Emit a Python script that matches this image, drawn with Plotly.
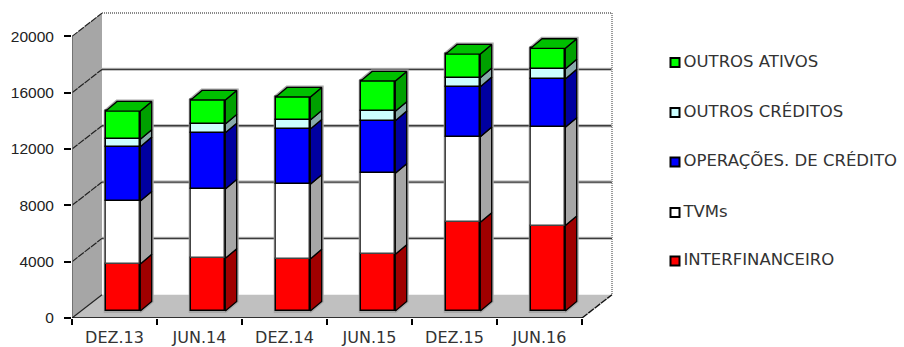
import plotly.graph_objects as go

# Semester labels and balances per asset class (stacked bottom to top)
periods = ["DEZ.13", "JUN.14", "DEZ.14", "JUN.15", "DEZ.15", "JUN.16"]
interfinanceiro = [3340, 3740, 3700, 4030, 6300, 6070]
tvms = [4470, 4925, 5300, 5750, 6080, 6975]
operacoes = [3860, 3995, 3925, 3735, 3550, 3435]
outros_creditos = [520, 620, 640, 665, 640, 710]
outros_ativos = [2010, 1705, 1635, 2155, 1680, 1465]
y_ticks = [0, 4000, 8000, 12000, 16000, 20000]

series = [
    ("INTERFINANCEIRO", interfinanceiro, "#FF0000", "#A00000", "#000000"),
    ("TVMs", tvms, "#FFFFFF", "#A6A6A6", "#444444"),
    ("OPERAÇÕES. DE CRÉDITO", operacoes, "#0000FF", "#0000A0", "#000000"),
    ("OUTROS CRÉDITOS", outros_creditos, "#CCFFFF", "#88AAAA", "#000000"),
    ("OUTROS ATIVOS", outros_ativos, "#00FF00", "#00A000", "#000000"),
]

# Canvas and axis scale, in screen pixels
WIDTH, HEIGHT = 904, 347
X0, Y0 = 72, 318          # where the value and category axes meet
PX_PER_CAT = 85.0
PX_PER_UNIT = 14.08 / 1000


def dx(px):
    return px / PX_PER_CAT


def dy(px):
    return px / PX_PER_UNIT


def at_x(px):
    return (px - X0) / PX_PER_CAT


def at_y(py):
    return (Y0 - py) / PX_PER_UNIT


# Oblique projection: depth of the chart box and of each column
WALL_DX, WALL_DY = dx(30), dy(23.3)
BAR_DX0, BAR_DY0 = dx(8.5), dy(7)
BAR_DX, BAR_DY = dx(11.4), dy(9.6)
BAR_W = 34.6 / PX_PER_CAT
N = len(periods)
TOP = max(y_ticks)

fig = go.Figure()
shapes = []


def poly(xs, ys, fill, line="rgba(0,0,0,0)", width=0):
    path = "M" + " L".join(f"{x},{y}" for x, y in zip(xs, ys)) + " Z"
    shapes.append(dict(type="path", path=path, fillcolor=fill, layer="below",
                       line=dict(color=line, width=width), xref="x", yref="y"))


def seg(x0, y0, x1, y1, color, width, dash="solid"):
    shapes.append(dict(type="line", x0=x0, y0=y0, x1=x1, y1=y1, layer="below",
                       line=dict(color=color, width=width, dash=dash), xref="x", yref="y"))


# Side wall and floor of the chart box
poly([0, 0, WALL_DX, WALL_DX], [0, TOP, TOP + WALL_DY, WALL_DY], "#A6A6A6")
poly([0, N, N + WALL_DX, WALL_DX], [0, 0, WALL_DY, WALL_DY], "#C0C0C0")

# Gridlines on the back wall and their continuation on the side wall
for t in y_ticks[1:-1]:
    seg(WALL_DX, t + WALL_DY, N + WALL_DX, t + WALL_DY, "#C4C4C4", 3.4)
    seg(WALL_DX, t + WALL_DY, N + WALL_DX, t + WALL_DY, "#3C3C3C", 1.3)
for t in y_ticks:
    seg(0, t, WALL_DX, t + WALL_DY, "#222222", 1.2, "7px,1px" if t else "solid")

# Dotted outline of the back wall
seg(WALL_DX, TOP + WALL_DY, N + WALL_DX, TOP + WALL_DY, "#8A8A8A", 2, "1px,1px")
seg(N + WALL_DX, TOP + WALL_DY, N + WALL_DX, WALL_DY, "#9A9A9A", 2, "1px,1px")
seg(0, 0, 0, TOP, "#666666", 1.6)
seg(N, 0, N + WALL_DX, WALL_DY, "#111111", 1.4, "7px,1px")

# Columns: front faces as bars, depth faces as filled outlines
base = [0] * N
centers = [i + 0.5 + BAR_DX0 for i in range(N)]
for name, values, face, side, edge in series:
    fig.add_trace(go.Bar(
        x=centers, y=values, base=[b + BAR_DY0 for b in base], width=BAR_W, name=name,
        marker=dict(color=face, line=dict(color=edge, width=1.5)), showlegend=False,
    ))
    tops = [b + v for b, v in zip(base, values)]
    for c, b, t in zip(centers, base, tops):
        r = c + BAR_W / 2
        fig.add_trace(go.Scatter(
            x=[r, r + BAR_DX, r + BAR_DX, r, r],
            y=[b + BAR_DY0, b + BAR_DY0 + BAR_DY, t + BAR_DY0 + BAR_DY, t + BAR_DY0, b + BAR_DY0],
            mode="lines", fill="toself", fillcolor=side, hoverinfo="skip",
            line=dict(color="#000000", width=1.3), showlegend=False,
        ))
    base = tops

# Roof of each column, plus the soft grey outline behind the whole column
for c, t in zip(centers, base):
    l, r = c - BAR_W / 2, c + BAR_W / 2
    fig.add_trace(go.Scatter(
        x=[l, r, r + BAR_DX, l + BAR_DX, l],
        y=[t + BAR_DY0, t + BAR_DY0, t + BAR_DY0 + BAR_DY, t + BAR_DY0 + BAR_DY, t + BAR_DY0],
        mode="lines", fill="toself", fillcolor="#00C000", hoverinfo="skip",
        line=dict(color="#000000", width=1.3), showlegend=False,
    ))
    poly([l, r, r + BAR_DX, r + BAR_DX, l + BAR_DX, l],
         [BAR_DY0, BAR_DY0, BAR_DY0 + BAR_DY, t + BAR_DY0 + BAR_DY, t + BAR_DY0 + BAR_DY, t + BAR_DY0],
         "#FFFFFF", "#A8A8A8", 4)

# Category axis line with its fine dotted scale
fig.add_trace(go.Scatter(x=[0, N], y=[0, 0], mode="lines", cliponaxis=False, hoverinfo="skip",
                         line=dict(color="#000000", width=1.5), showlegend=False))
fig.add_trace(go.Scatter(x=[0, N], y=[at_y(320), at_y(320)], mode="lines", cliponaxis=False, hoverinfo="skip",
                         line=dict(color="#333333", width=2, dash="1px,1px"), showlegend=False))

# Key on the right, listed top to bottom
key_rows = list(reversed(series))
key_y = [62.5, 112.5, 162, 212.5, 261]
fig.add_trace(go.Scatter(
    x=[at_x(675)] * len(key_rows), y=[at_y(p) for p in key_y], mode="markers", cliponaxis=False,
    marker=dict(symbol="square", size=9, color=[r[2] for r in key_rows],
                line=dict(color="#000000", width=2)), hoverinfo="skip", showlegend=False,
))
fig.add_trace(go.Scatter(
    x=[at_x(683.5)] * len(key_rows), y=[at_y(p) for p in key_y], mode="text", cliponaxis=False,
    text=[r[0] for r in key_rows], textposition="middle right",
    textfont=dict(family="DejaVu Sans", size=16.5, color="#333333"), hoverinfo="skip", showlegend=False,
))

x_range = [0, (WIDTH - X0) / PX_PER_CAT]
fig.update_layout(
    width=WIDTH, height=HEIGHT, margin=dict(l=X0, r=0, t=0, b=HEIGHT - Y0, autoexpand=False),
    paper_bgcolor="#FFFFFF", plot_bgcolor="#FFFFFF", barmode="overlay", bargap=0,
    font=dict(family="DejaVu Sans", size=16, color="#333333"), shapes=shapes,
    xaxis=dict(range=x_range, tickmode="array", tickvals=[i + 0.5 for i in range(N)], ticktext=periods,
               ticks="", showgrid=False, zeroline=False, showline=False, ticklabelstandoff=8, automargin=False),
    xaxis2=dict(range=x_range, overlaying="x", anchor="y", side="bottom", tickmode="array",
                tickvals=list(range(N + 1)), ticktext=[""] * (N + 1), ticks="outside", ticklen=6, tickwidth=2,
                tickcolor="#000000", showgrid=False, zeroline=False, showline=False, automargin=False),
    yaxis=dict(range=[0, at_y(0)], tickmode="array", tickvals=y_ticks, ticks="outside", ticklen=7, tickwidth=2,
               tickcolor="#000000", showgrid=False, zeroline=False, showline=False, ticklabelstandoff=7,
               tickformat="d", automargin=False, tickfont=dict(family="Liberation Sans", size=15.5, color="#222222")),
)
# A hidden trace keeps the tick-only axis drawn
fig.add_trace(go.Scatter(x=[0], y=[0], xaxis="x2", mode="markers", marker=dict(opacity=0), hoverinfo="skip",
                         showlegend=False))

fig.write_html("out.html")
